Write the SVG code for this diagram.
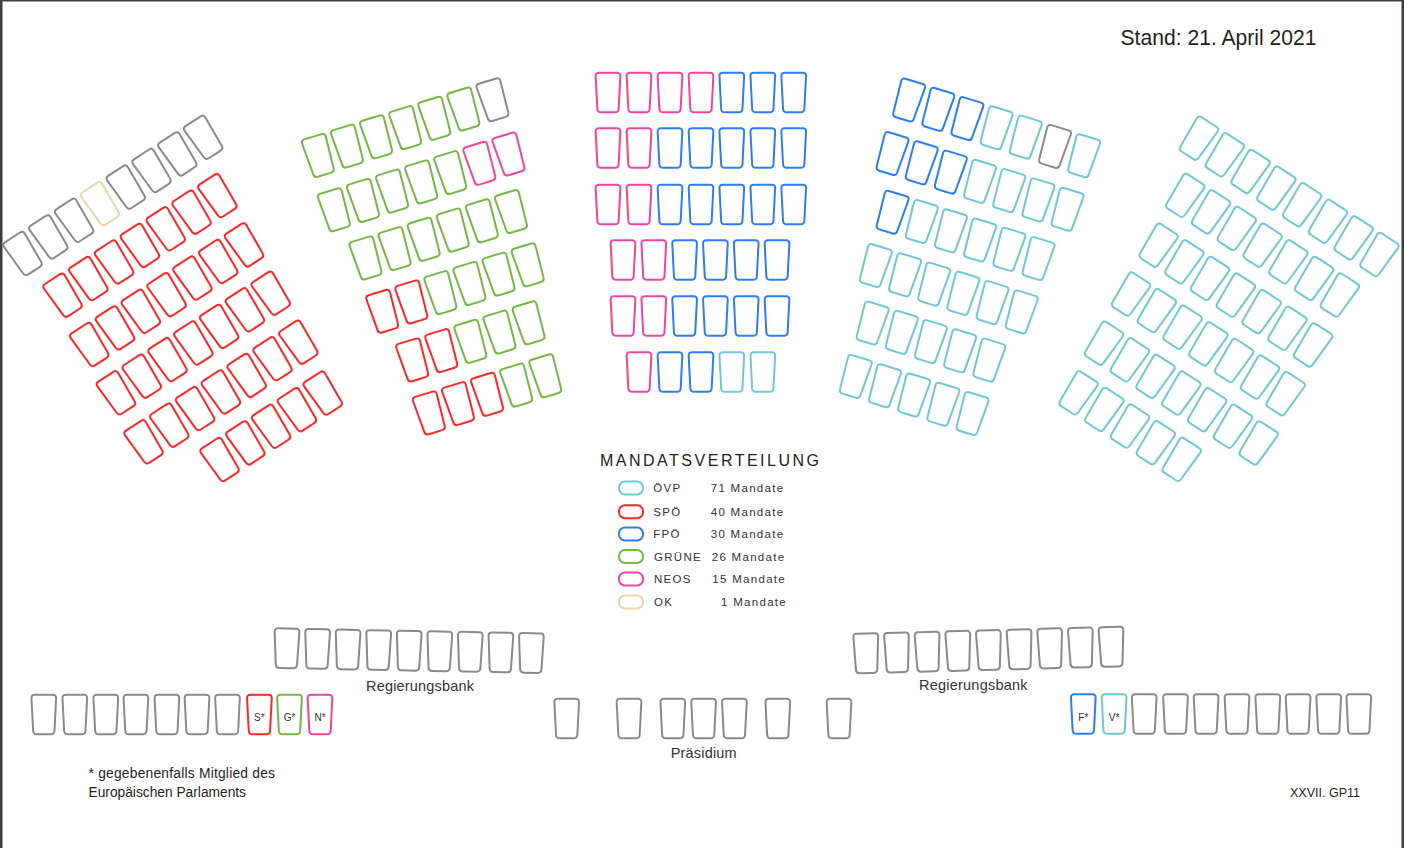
<svg xmlns="http://www.w3.org/2000/svg" width="1404" height="848" viewBox="0 0 1404 848">
<style>
use{fill:none;stroke-width:2;stroke-linejoin:round}
.t{stroke:#70c8d6}
.r{stroke:#ff2626}
.b{stroke:#2c7df5}
.g{stroke:#73b845}
.p{stroke:#f2449f}
.o{stroke:#efd4a6}
.x{stroke:#8a8a8a}
.sw{fill:none;stroke-width:2}
text{font-family:"Liberation Sans",Arial,sans-serif;fill:#333}
.lg{font-size:11.5px;letter-spacing:1.3px}
.lab{font-size:14.5px}
.sm{font-size:10px;text-anchor:middle}
.frame{fill:#3b3f44}
</style>
<defs>
<path id="s" d="M -9,-19.8 H 9 Q 12.5,-19.8 12.33,-16.3 L 10.67,16.3 Q 10.5,19.8 7,19.8 H -7 Q -10.5,19.8 -10.67,16.3 L -12.33,-16.3 Q -12.5,-19.8 -9,-19.8 Z"/>
</defs>
<rect x="0" y="0" width="1404" height="848" fill="#fff"/>
<g id="frame">
<rect class="frame" x="0" y="0" width="2.5" height="848"/>
<rect class="frame" x="0" y="0" width="1404" height="1.5"/>
<rect class="frame" x="1401.5" y="0" width="2.5" height="848"/>
</g>
<text x="1120.5" y="44.5" style="font-size:22px;fill:#231f20" textLength="196" lengthAdjust="spacingAndGlyphs">Stand: 21. April 2021</text>

<g id="block-left">
<use href="#s" class="x" transform="translate(23.3 254) rotate(-33)"/>
<use href="#s" class="x" transform="translate(49.1 237.4) rotate(-33)"/>
<use href="#s" class="x" transform="translate(74.9 220.8) rotate(-33)"/>
<use href="#s" class="o" transform="translate(100.7 204.2) rotate(-33)"/>
<use href="#s" class="x" transform="translate(126.5 187.6) rotate(-33)"/>
<use href="#s" class="x" transform="translate(152.3 171) rotate(-33)"/>
<use href="#s" class="x" transform="translate(178.1 154.4) rotate(-33)"/>
<use href="#s" class="x" transform="translate(203.9 137.8) rotate(-33)"/>
<use href="#s" class="r" transform="translate(63.3 295.7) rotate(-33)"/>
<use href="#s" class="r" transform="translate(89.1 279.1) rotate(-33)"/>
<use href="#s" class="r" transform="translate(114.9 262.5) rotate(-33)"/>
<use href="#s" class="r" transform="translate(140.7 245.9) rotate(-33)"/>
<use href="#s" class="r" transform="translate(166.5 229.3) rotate(-33)"/>
<use href="#s" class="r" transform="translate(192.3 212.7) rotate(-33)"/>
<use href="#s" class="r" transform="translate(218.1 196.1) rotate(-33)"/>
<use href="#s" class="r" transform="translate(90 345) rotate(-33)"/>
<use href="#s" class="r" transform="translate(115.8 328.4) rotate(-33)"/>
<use href="#s" class="r" transform="translate(141.6 311.8) rotate(-33)"/>
<use href="#s" class="r" transform="translate(167.4 295.2) rotate(-33)"/>
<use href="#s" class="r" transform="translate(193.2 278.6) rotate(-33)"/>
<use href="#s" class="r" transform="translate(219 262) rotate(-33)"/>
<use href="#s" class="r" transform="translate(244.8 245.4) rotate(-33)"/>
<use href="#s" class="r" transform="translate(116.7 393.3) rotate(-33)"/>
<use href="#s" class="r" transform="translate(142.5 376.7) rotate(-33)"/>
<use href="#s" class="r" transform="translate(168.3 360.1) rotate(-33)"/>
<use href="#s" class="r" transform="translate(194.1 343.5) rotate(-33)"/>
<use href="#s" class="r" transform="translate(219.9 326.9) rotate(-33)"/>
<use href="#s" class="r" transform="translate(245.7 310.3) rotate(-33)"/>
<use href="#s" class="r" transform="translate(271.5 293.7) rotate(-33)"/>
<use href="#s" class="r" transform="translate(144.3 442.3) rotate(-33)"/>
<use href="#s" class="r" transform="translate(170.1 425.7) rotate(-33)"/>
<use href="#s" class="r" transform="translate(195.9 409.1) rotate(-33)"/>
<use href="#s" class="r" transform="translate(221.7 392.5) rotate(-33)"/>
<use href="#s" class="r" transform="translate(247.5 375.9) rotate(-33)"/>
<use href="#s" class="r" transform="translate(273.3 359.3) rotate(-33)"/>
<use href="#s" class="r" transform="translate(299.1 342.7) rotate(-33)"/>
<use href="#s" class="r" transform="translate(220.3 460) rotate(-33)"/>
<use href="#s" class="r" transform="translate(246.1 443.4) rotate(-33)"/>
<use href="#s" class="r" transform="translate(271.9 426.8) rotate(-33)"/>
<use href="#s" class="r" transform="translate(297.7 410.2) rotate(-33)"/>
<use href="#s" class="r" transform="translate(323.5 393.6) rotate(-33)"/>
</g>

<g id="block-center-left">
<use href="#s" class="g" transform="translate(318.7 155.7) rotate(-17)"/>
<use href="#s" class="g" transform="translate(347.8 146.4) rotate(-17)"/>
<use href="#s" class="g" transform="translate(376.9 137.1) rotate(-17)"/>
<use href="#s" class="g" transform="translate(406 127.9) rotate(-17)"/>
<use href="#s" class="g" transform="translate(435.1 118.6) rotate(-17)"/>
<use href="#s" class="g" transform="translate(464.2 109.3) rotate(-17)"/>
<use href="#s" class="x" transform="translate(493.3 100) rotate(-17)"/>
<use href="#s" class="g" transform="translate(334.7 210) rotate(-17)"/>
<use href="#s" class="g" transform="translate(363.8 200.7) rotate(-17)"/>
<use href="#s" class="g" transform="translate(392.9 191.4) rotate(-17)"/>
<use href="#s" class="g" transform="translate(422 182.2) rotate(-17)"/>
<use href="#s" class="g" transform="translate(451.1 172.9) rotate(-17)"/>
<use href="#s" class="p" transform="translate(480.2 163.6) rotate(-17)"/>
<use href="#s" class="p" transform="translate(509.3 154.3) rotate(-17)"/>
<use href="#s" class="g" transform="translate(366.3 258.2) rotate(-17)"/>
<use href="#s" class="g" transform="translate(395.4 248.9) rotate(-17)"/>
<use href="#s" class="g" transform="translate(424.5 239.6) rotate(-17)"/>
<use href="#s" class="g" transform="translate(453.6 230.4) rotate(-17)"/>
<use href="#s" class="g" transform="translate(482.7 221.1) rotate(-17)"/>
<use href="#s" class="g" transform="translate(511.8 211.8) rotate(-17)"/>
<use href="#s" class="r" transform="translate(383 311.5) rotate(-17)"/>
<use href="#s" class="r" transform="translate(412.1 302.2) rotate(-17)"/>
<use href="#s" class="g" transform="translate(441.2 292.9) rotate(-17)"/>
<use href="#s" class="g" transform="translate(470.3 283.7) rotate(-17)"/>
<use href="#s" class="g" transform="translate(499.4 274.4) rotate(-17)"/>
<use href="#s" class="g" transform="translate(528.5 265.1) rotate(-17)"/>
<use href="#s" class="r" transform="translate(413 360.2) rotate(-17)"/>
<use href="#s" class="r" transform="translate(442.1 350.9) rotate(-17)"/>
<use href="#s" class="g" transform="translate(471.2 341.6) rotate(-17)"/>
<use href="#s" class="g" transform="translate(500.3 332.4) rotate(-17)"/>
<use href="#s" class="g" transform="translate(529.4 323.1) rotate(-17)"/>
<use href="#s" class="r" transform="translate(429.7 413.2) rotate(-17)"/>
<use href="#s" class="r" transform="translate(458.8 403.9) rotate(-17)"/>
<use href="#s" class="r" transform="translate(487.9 394.6) rotate(-17)"/>
<use href="#s" class="g" transform="translate(517 385.4) rotate(-17)"/>
<use href="#s" class="g" transform="translate(546.1 376.1) rotate(-17)"/>
</g>

<g id="block-center">
<use href="#s" class="p" transform="translate(608 92.5)"/>
<use href="#s" class="p" transform="translate(639 92.5)"/>
<use href="#s" class="p" transform="translate(670 92.5)"/>
<use href="#s" class="p" transform="translate(701 92.5)"/>
<use href="#s" class="b" transform="translate(731.8 92.5)"/>
<use href="#s" class="b" transform="translate(762.8 92.5)"/>
<use href="#s" class="b" transform="translate(793.7 92.5)"/>
<use href="#s" class="p" transform="translate(608 148)"/>
<use href="#s" class="p" transform="translate(639 148)"/>
<use href="#s" class="b" transform="translate(670 148)"/>
<use href="#s" class="b" transform="translate(701 148)"/>
<use href="#s" class="b" transform="translate(731.8 148)"/>
<use href="#s" class="b" transform="translate(762.8 148)"/>
<use href="#s" class="b" transform="translate(793.7 148)"/>
<use href="#s" class="p" transform="translate(608 204.5)"/>
<use href="#s" class="p" transform="translate(639 204.5)"/>
<use href="#s" class="b" transform="translate(670 204.5)"/>
<use href="#s" class="b" transform="translate(701 204.5)"/>
<use href="#s" class="b" transform="translate(731.8 204.5)"/>
<use href="#s" class="b" transform="translate(762.8 204.5)"/>
<use href="#s" class="b" transform="translate(793.7 204.5)"/>
<use href="#s" class="p" transform="translate(623 260)"/>
<use href="#s" class="p" transform="translate(653.8 260)"/>
<use href="#s" class="b" transform="translate(684.6 260)"/>
<use href="#s" class="b" transform="translate(715.4 260)"/>
<use href="#s" class="b" transform="translate(746.2 260)"/>
<use href="#s" class="b" transform="translate(777 260)"/>
<use href="#s" class="p" transform="translate(623 316)"/>
<use href="#s" class="p" transform="translate(653.8 316)"/>
<use href="#s" class="b" transform="translate(684.6 316)"/>
<use href="#s" class="b" transform="translate(715.4 316)"/>
<use href="#s" class="b" transform="translate(746.2 316)"/>
<use href="#s" class="b" transform="translate(777 316)"/>
<use href="#s" class="p" transform="translate(639 372)"/>
<use href="#s" class="b" transform="translate(670 372)"/>
<use href="#s" class="b" transform="translate(701 372)"/>
<use href="#s" class="t" transform="translate(731.8 372)"/>
<use href="#s" class="t" transform="translate(762.8 372)"/>
</g>

<g id="block-center-right">
<use href="#s" class="b" transform="translate(908.3 100.3) rotate(17)"/>
<use href="#s" class="b" transform="translate(937.5 109.6) rotate(17)"/>
<use href="#s" class="b" transform="translate(966.6 118.9) rotate(17)"/>
<use href="#s" class="t" transform="translate(995.8 128.1) rotate(17)"/>
<use href="#s" class="t" transform="translate(1025 137.4) rotate(17)"/>
<use href="#s" class="x" transform="translate(1054.2 146.7) rotate(17)"/>
<use href="#s" class="t" transform="translate(1083.3 156) rotate(17)"/>
<use href="#s" class="b" transform="translate(891.7 153.8) rotate(17)"/>
<use href="#s" class="b" transform="translate(920.9 163.1) rotate(17)"/>
<use href="#s" class="b" transform="translate(950 172.4) rotate(17)"/>
<use href="#s" class="t" transform="translate(979.2 181.6) rotate(17)"/>
<use href="#s" class="t" transform="translate(1008.4 190.9) rotate(17)"/>
<use href="#s" class="t" transform="translate(1037.6 200.2) rotate(17)"/>
<use href="#s" class="t" transform="translate(1066.7 209.5) rotate(17)"/>
<use href="#s" class="b" transform="translate(891.8 212.5) rotate(17)"/>
<use href="#s" class="t" transform="translate(921 221.8) rotate(17)"/>
<use href="#s" class="t" transform="translate(950.1 231.1) rotate(17)"/>
<use href="#s" class="t" transform="translate(979.3 240.3) rotate(17)"/>
<use href="#s" class="t" transform="translate(1008.5 249.6) rotate(17)"/>
<use href="#s" class="t" transform="translate(1037.7 258.9) rotate(17)"/>
<use href="#s" class="t" transform="translate(875 265.8) rotate(17)"/>
<use href="#s" class="t" transform="translate(904.2 275.1) rotate(17)"/>
<use href="#s" class="t" transform="translate(933.3 284.4) rotate(17)"/>
<use href="#s" class="t" transform="translate(962.5 293.6) rotate(17)"/>
<use href="#s" class="t" transform="translate(991.7 302.9) rotate(17)"/>
<use href="#s" class="t" transform="translate(1020.9 312.2) rotate(17)"/>
<use href="#s" class="t" transform="translate(871.8 323.3) rotate(17)"/>
<use href="#s" class="t" transform="translate(901 332.6) rotate(17)"/>
<use href="#s" class="t" transform="translate(930.1 341.9) rotate(17)"/>
<use href="#s" class="t" transform="translate(959.3 351.1) rotate(17)"/>
<use href="#s" class="t" transform="translate(988.5 360.4) rotate(17)"/>
<use href="#s" class="t" transform="translate(855 376.7) rotate(17)"/>
<use href="#s" class="t" transform="translate(884.2 386) rotate(17)"/>
<use href="#s" class="t" transform="translate(913.3 395.3) rotate(17)"/>
<use href="#s" class="t" transform="translate(942.5 404.5) rotate(17)"/>
<use href="#s" class="t" transform="translate(971.7 413.8) rotate(17)"/>
</g>

<g id="block-right">
<use href="#s" class="t" transform="translate(1198.3 138.7) rotate(33)"/>
<use href="#s" class="t" transform="translate(1224.1 155.3) rotate(33)"/>
<use href="#s" class="t" transform="translate(1249.8 171.9) rotate(33)"/>
<use href="#s" class="t" transform="translate(1275.6 188.6) rotate(33)"/>
<use href="#s" class="t" transform="translate(1301.4 205.2) rotate(33)"/>
<use href="#s" class="t" transform="translate(1327.2 221.8) rotate(33)"/>
<use href="#s" class="t" transform="translate(1352.9 238.4) rotate(33)"/>
<use href="#s" class="t" transform="translate(1378.7 255) rotate(33)"/>
<use href="#s" class="t" transform="translate(1184.5 195.8) rotate(33)"/>
<use href="#s" class="t" transform="translate(1210.3 212.4) rotate(33)"/>
<use href="#s" class="t" transform="translate(1236 229) rotate(33)"/>
<use href="#s" class="t" transform="translate(1261.8 245.7) rotate(33)"/>
<use href="#s" class="t" transform="translate(1287.6 262.3) rotate(33)"/>
<use href="#s" class="t" transform="translate(1313.4 278.9) rotate(33)"/>
<use href="#s" class="t" transform="translate(1339.1 295.5) rotate(33)"/>
<use href="#s" class="t" transform="translate(1157.8 245.7) rotate(33)"/>
<use href="#s" class="t" transform="translate(1183.6 262.3) rotate(33)"/>
<use href="#s" class="t" transform="translate(1209.3 278.9) rotate(33)"/>
<use href="#s" class="t" transform="translate(1235.1 295.6) rotate(33)"/>
<use href="#s" class="t" transform="translate(1260.9 312.2) rotate(33)"/>
<use href="#s" class="t" transform="translate(1286.7 328.8) rotate(33)"/>
<use href="#s" class="t" transform="translate(1312.4 345.4) rotate(33)"/>
<use href="#s" class="t" transform="translate(1130.3 294.5) rotate(33)"/>
<use href="#s" class="t" transform="translate(1156.1 311.1) rotate(33)"/>
<use href="#s" class="t" transform="translate(1181.8 327.7) rotate(33)"/>
<use href="#s" class="t" transform="translate(1207.6 344.4) rotate(33)"/>
<use href="#s" class="t" transform="translate(1233.4 361) rotate(33)"/>
<use href="#s" class="t" transform="translate(1259.2 377.6) rotate(33)"/>
<use href="#s" class="t" transform="translate(1284.9 394.2) rotate(33)"/>
<use href="#s" class="t" transform="translate(1103.3 343.7) rotate(33)"/>
<use href="#s" class="t" transform="translate(1129.1 360.3) rotate(33)"/>
<use href="#s" class="t" transform="translate(1154.8 376.9) rotate(33)"/>
<use href="#s" class="t" transform="translate(1180.6 393.6) rotate(33)"/>
<use href="#s" class="t" transform="translate(1206.4 410.2) rotate(33)"/>
<use href="#s" class="t" transform="translate(1232.2 426.8) rotate(33)"/>
<use href="#s" class="t" transform="translate(1257.9 443.4) rotate(33)"/>
<use href="#s" class="t" transform="translate(1077.8 393.3) rotate(33)"/>
<use href="#s" class="t" transform="translate(1103.6 409.9) rotate(33)"/>
<use href="#s" class="t" transform="translate(1129.3 426.5) rotate(33)"/>
<use href="#s" class="t" transform="translate(1155.1 443.2) rotate(33)"/>
<use href="#s" class="t" transform="translate(1180.9 459.8) rotate(33)"/>
</g>

<g id="legend">
<text x="600" y="465.5" style="font-size:16px;letter-spacing:2.5px;fill:#222">MANDATSVERTEILUNG</text>
<rect class="sw t" x="619" y="481.5" width="24" height="13" rx="6"/>
<rect class="sw r" x="619" y="505.3" width="24" height="13" rx="6"/>
<rect class="sw b" x="619" y="527.5" width="24" height="13" rx="6"/>
<rect class="sw g" x="619" y="550" width="24" height="13" rx="6"/>
<rect class="sw p" x="619" y="572.5" width="24" height="13" rx="6"/>
<rect class="sw o" x="619" y="595.5" width="24" height="13" rx="6"/>
<text class="lg" x="653.3" y="492">ÖVP</text>
<text class="lg" x="653.3" y="515.8">SPÖ</text>
<text class="lg" x="653.3" y="538">FPÖ</text>
<text class="lg" x="654" y="560.5">GRÜNE</text>
<text class="lg" x="654" y="583">NEOS</text>
<text class="lg" x="654" y="606">OK</text>
<text class="lg" x="710.7" y="492">71 Mandate</text>
<text class="lg" x="710.7" y="515.8">40 Mandate</text>
<text class="lg" x="710.7" y="538">30 Mandate</text>
<text class="lg" x="711.7" y="560.5">26 Mandate</text>
<text class="lg" x="712.3" y="583">15 Mandate</text>
<text class="lg" x="721" y="606">1 Mandate</text>
</g>

<g id="regierungsbank-left">
<use href="#s" class="x" transform="translate(286.7 648.3) rotate(1.1)"/>
<use href="#s" class="x" transform="translate(317.3 648.9) rotate(1.1)"/>
<use href="#s" class="x" transform="translate(347.8 649.5) rotate(1.1)"/>
<use href="#s" class="x" transform="translate(378.4 650.1) rotate(1.1)"/>
<use href="#s" class="x" transform="translate(408.9 650.7) rotate(1.1)"/>
<use href="#s" class="x" transform="translate(439.5 651.3) rotate(1.1)"/>
<use href="#s" class="x" transform="translate(470 651.8) rotate(1.1)"/>
<use href="#s" class="x" transform="translate(500.6 652.4) rotate(1.1)"/>
<use href="#s" class="x" transform="translate(531.1 653) rotate(1.1)"/>
<text class="lab" x="366" y="690.7" textLength="108">Regierungsbank</text>
</g>

<g id="regierungsbank-right">
<use href="#s" class="x" transform="translate(866.2 653.3) rotate(-1.5)"/>
<use href="#s" class="x" transform="translate(896.9 652.5) rotate(-1.5)"/>
<use href="#s" class="x" transform="translate(927.5 651.7) rotate(-1.5)"/>
<use href="#s" class="x" transform="translate(958.2 650.9) rotate(-1.5)"/>
<use href="#s" class="x" transform="translate(988.8 650.1) rotate(-1.5)"/>
<use href="#s" class="x" transform="translate(1019.5 649.3) rotate(-1.5)"/>
<use href="#s" class="x" transform="translate(1050.1 648.4) rotate(-1.5)"/>
<use href="#s" class="x" transform="translate(1080.8 647.6) rotate(-1.5)"/>
<use href="#s" class="x" transform="translate(1111.4 646.8) rotate(-1.5)"/>
<text class="lab" x="919" y="690.3" textLength="108.5">Regierungsbank</text>
</g>

<g id="bench-left">
<use href="#s" class="x" transform="translate(43.8 714.5)"/>
<use href="#s" class="x" transform="translate(74.8 714.5)"/>
<use href="#s" class="x" transform="translate(105.8 714.5)"/>
<use href="#s" class="x" transform="translate(135.9 714.5)"/>
<use href="#s" class="x" transform="translate(166.9 714.5)"/>
<use href="#s" class="x" transform="translate(197 714.5)"/>
<use href="#s" class="x" transform="translate(227.5 714.5)"/>
<use href="#s" class="r" transform="translate(259.4 714.5)"/>
<use href="#s" class="g" transform="translate(289.5 714.5)"/>
<use href="#s" class="p" transform="translate(320 714.5)"/>
<text class="sm" x="259.4" y="721">S*</text>
<text class="sm" x="289.5" y="721">G*</text>
<text class="sm" x="320" y="721">N*</text>
</g>

<g id="praesidium">
<use href="#s" class="x" transform="translate(566.7 718.5)"/>
<use href="#s" class="x" transform="translate(629 718.5)"/>
<use href="#s" class="x" transform="translate(672.8 718.5)"/>
<use href="#s" class="x" transform="translate(703.6 718.5)"/>
<use href="#s" class="x" transform="translate(734.4 718.5)"/>
<use href="#s" class="x" transform="translate(777.8 718.5)"/>
<use href="#s" class="x" transform="translate(839 718.5)"/>
<text class="lab" x="670.7" y="758.3" textLength="66">Präsidium</text>
</g>

<g id="bench-right">
<use href="#s" class="b" transform="translate(1083.3 714)"/>
<use href="#s" class="t" transform="translate(1114.1 714)"/>
<use href="#s" class="x" transform="translate(1144.2 714)"/>
<use href="#s" class="x" transform="translate(1175.5 714)"/>
<use href="#s" class="x" transform="translate(1206.1 714)"/>
<use href="#s" class="x" transform="translate(1237 714)"/>
<use href="#s" class="x" transform="translate(1267.8 714)"/>
<use href="#s" class="x" transform="translate(1298.1 714)"/>
<use href="#s" class="x" transform="translate(1328.7 714)"/>
<use href="#s" class="x" transform="translate(1358.8 714)"/>
<text class="sm" x="1083.3" y="721">F*</text>
<text class="sm" x="1114.1" y="721">V*</text>
</g>

<g id="notes">
<text x="88.5" y="778" style="font-size:13.8px;fill:#231f20" textLength="186.5">* gegebenenfalls Mitglied des</text>
<text x="88.5" y="796.5" style="font-size:13.8px;fill:#231f20" textLength="157.5" lengthAdjust="spacingAndGlyphs">Europäischen Parlaments</text>
<text x="1290" y="796.7" style="font-size:13px;fill:#231f20" textLength="70" lengthAdjust="spacingAndGlyphs">XXVII. GP11</text>
</g>
</svg>
